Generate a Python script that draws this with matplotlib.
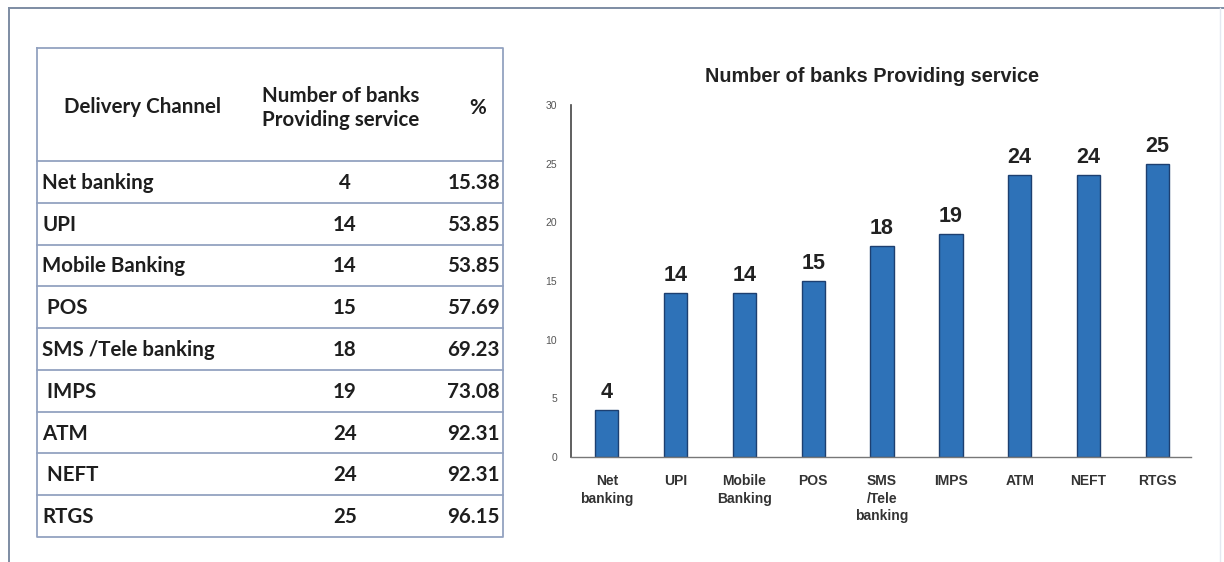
import matplotlib
matplotlib.use("Agg")
import matplotlib.pyplot as plt
from matplotlib.lines import Line2D

# Delivery channels and the number of banks offering each one
channels = ["Net banking", "UPI", "Mobile Banking", " POS", "SMS /Tele banking",
            " IMPS", "ATM", " NEFT", "RTGS"]
bank_counts = [4, 14, 14, 15, 18, 19, 24, 24, 25]
percentages = ["15.38", "53.85", "53.85", "57.69", "69.23", "73.08", "92.31", "92.31", "96.15"]
bar_labels = ["Net\nbanking", "UPI", "Mobile\nBanking", "POS", "SMS\n/Tele\nbanking",
              "IMPS", "ATM", "NEFT", "RTGS"]
y_ticks = [0, 5, 10, 15, 20, 25, 30]

W, H = 1224, 562
fig = plt.figure(figsize=(W / 100, H / 100), dpi=100)
fig.patch.set_facecolor("white")

# Overlay in pixel coordinates for the frame and the table
ov = fig.add_axes([0, 0, 1, 1])
ov.set_xlim(0, W)
ov.set_ylim(H, 0)
ov.axis("off")

frame_col = "#7d8ca3"
ov.add_line(Line2D([8.5, 8.5], [7.5, H], color=frame_col, lw=1.4))
ov.add_line(Line2D([8.5, W], [7.5, 7.5], color=frame_col, lw=1.4))
ov.add_line(Line2D([1220, 1220], [8, H], color="#e4e8f0", lw=1.0))

# Table
tfont = ["Lato", "DejaVu Sans"]
tcol = "#1e1e1e"
border = "#93a2c0"
x0, x1 = 37, 503
y_top, y_head = 48, 161
row_h = (537 - 161) / len(channels)
fs = 14.8

ov.add_line(Line2D([x0, x1, x1, x0, x0], [y_top, y_top, 537, 537, y_top],
                   color=border, lw=1.3))
for i in range(len(channels)):
    y = y_head + i * row_h
    ov.add_line(Line2D([x0, x1], [y, y], color=border, lw=1.3))

ov.text(143, 107, "Delivery Channel", ha="center", va="center", fontsize=fs,
        fontweight="bold", family=tfont, color=tcol)
ov.text(341, 108, "Number of banks\nProviding service", ha="center", va="center",
        fontsize=fs, fontweight="bold", family=tfont, color=tcol, linespacing=1.3)
ov.text(478, 108, "%", ha="center", va="center", fontsize=fs,
        fontweight="bold", family=tfont, color=tcol)

for i, (ch, n, p) in enumerate(zip(channels, bank_counts, percentages)):
    yc = y_head + (i + 0.5) * row_h + 1
    ov.text(42, yc, ch, ha="left", va="center", fontsize=fs, fontweight="bold",
            family=tfont, color=tcol)
    ov.text(345, yc, str(n), ha="center", va="center", fontsize=fs,
            fontweight="bold", family=tfont, color=tcol)
    ov.text(500, yc, p, ha="right", va="center", fontsize=fs,
            fontweight="bold", family=tfont, color=tcol)

# Bar chart
cfont = ["Liberation Sans", "DejaVu Sans"]
ax = fig.add_axes([571 / W, (H - 457) / H, (1191 - 571) / W, (457 - 105) / H])
x = list(range(len(bank_counts)))
bars = ax.bar(x, bank_counts, width=0.34, color="#2e72b8", edgecolor="#1d3f70",
              linewidth=1.0, zorder=2)
ax.set_xlim(-0.52, 8.49)
ax.set_ylim(0, 30)
ax.set_yticks(y_ticks)
ax.set_yticklabels([str(t) for t in y_ticks], family=cfont, fontsize=7.5, color="#555555")
ax.set_xticks(x)
ax.set_xticklabels(bar_labels, family=cfont, fontsize=10, fontweight="bold",
                   color="#333333", linespacing=1.35, va="top")
ax.tick_params(axis="both", length=0)
ax.tick_params(axis="y", pad=10)
ax.tick_params(axis="x", pad=12)
for s in ["top", "right"]:
    ax.spines[s].set_visible(False)
ax.spines["left"].set_color("#444444")
ax.spines["left"].set_linewidth(1.2)
ax.spines["bottom"].set_color("#777777")
ax.spines["bottom"].set_linewidth(1.0)
ax.set_facecolor("none")

for b, v in zip(bars, bank_counts):
    ax.annotate(str(v), (b.get_x() + b.get_width() / 2, v), xytext=(0, 5),
                textcoords="offset points", ha="center", va="bottom",
                fontsize=15.5, fontweight="bold", family=cfont, color="#222222")

fig.text(872 / W, (H - 76) / H, "Number of banks Providing service", ha="center",
         va="center", fontsize=14.3, fontweight="bold", family=cfont, color="#222222")

fig.savefig("out.png", dpi=100)
